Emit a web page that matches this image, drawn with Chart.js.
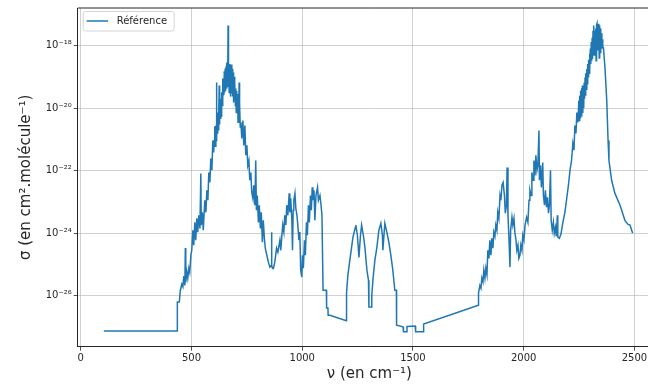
<!DOCTYPE html>
<html>
<head>
<meta charset="utf-8">
<script src="https://cdn.jsdelivr.net/npm/chart.js@4.4.1/dist/chart.umd.min.js"></script>
<style>
  html, body { margin: 0; padding: 0; overflow: hidden; background: #fff; }
  #wrap { width: 648px; height: 387px; overflow: hidden; }
</style>
</head>
<body>
<div id="wrap"><canvas id="c" width="661" height="387"></canvas></div>
<script>
// nombre d'onde (cm-1) et section efficace (cm2/molécule)
const nu = [
  // palier + montée de la bande 667
  104, 435, 436, 445, 449, 456, 461, 465, 470, 472, 474, 479, 483, 488, 492, 497, 501, 506, 510, 515,
  519, 524, 528, 533, 538, 542, 544, 549, 553, 560, 565, 569, 574, 578, 583, 587, 592, 596,
  // sommet de la bande 667
  600, 602.5, 605, 607.5, 610, 612, 613, 614, 616, 618,
  620, 622, 623.5, 625, 626, 628, 630, 632, 634, 636,
  638, 640, 642, 644, 646, 648, 650, 652, 654, 656,
  658, 660, 662, 664, 665, 666, 668, 670, 672, 674,
  676, 678, 680, 682, 684, 686, 688, 690, 692, 694,
  696, 698, 700, 702, 704, 706, 708, 710, 712, 714,
  715, 716, 718, 720,
  // descente, bandes 960/1060, 1260/1370, creux
  723, 727, 732, 736, 741, 745, 750, 754, 759, 763,
  768, 772, 777, 781, 786, 790, 793, 797, 802, 806,
  811, 815, 820, 824, 829, 833, 840, 847, 854, 860,
  861, 863, 870, 876, 884, 890, 899, 903, 908, 912,
  917, 921, 926, 930, 935, 941, 944, 948, 953, 956,
  959, 962, 967, 971, 976, 980, 985, 989, 993, 998,
  1001, 1005, 1010, 1014, 1019, 1023, 1028, 1032, 1037, 1041,
  1045, 1048, 1053, 1057, 1062, 1069, 1073, 1080, 1084, 1089,
  1094, 1109, 1110, 1116, 1117, 1125, 1199, 1200, 1206, 1215,
  1229, 1240, 1242, 1249, 1256, 1263, 1268, 1276, 1283, 1292,
  1299, 1301, 1313, 1314, 1319, 1328, 1337, 1346, 1355, 1362,
  1364, 1369, 1373, 1382, 1391, 1400, 1409, 1418, 1425, 1426,
  1455, 1457, 1471, 1473, 1510, 1512, 1546, 1548, 1795, 1796,
  // bandes 1900 et 2060
  1802, 1807, 1811, 1816, 1820, 1825, 1829, 1834, 1838, 1843,
  1847, 1852, 1856, 1861, 1865, 1870, 1874, 1879, 1883, 1888,
  1893, 1897, 1902, 1907, 1913, 1917, 1922, 1925, 1929, 1933,
  1938, 1941, 1947, 1951, 1956, 1960, 1965, 1969, 1974, 1978,
  1983, 1987, 1992, 1996, 2001, 2006, 2013, 2019, 2024, 2028,
  2033, 2037, 2042, 2046, 2051, 2055, 2060, 2064, 2069, 2071,
  2076, 2080, 2086, 2089, 2094, 2098, 2103, 2107, 2112, 2116,
  2121, 2124, 2129, 2134, 2138, 2143, 2147, 2152, 2154, 2161,
  2168, 2177, 2186, 2195, 2202, 2209, 2216, 2222, 2227, 2231,
  2236, 2240, 2245,
  // bande 2350
  2249, 2251, 2253, 2255, 2257, 2259, 2261, 2263, 2265, 2267,
  2269, 2271, 2273, 2275, 2277, 2279, 2281, 2283, 2285, 2287,
  2289, 2291, 2293, 2295, 2297, 2299, 2301, 2303, 2305, 2307,
  2309, 2311, 2313, 2315, 2317, 2319, 2321, 2323, 2325, 2327,
  2329, 2331, 2333, 2335, 2337, 2339, 2341, 2343, 2345, 2347,
  2349, 2351, 2353, 2355, 2357,
  2360, 2367, 2375, 2381, 2385, 2397, 2412, 2435, 2457, 2471, 2480, 2492
];
const sigma = [
  7.3e-28, 7.3e-28, 6.2e-27, 6.2e-27, 1.4e-26, 2.3e-26, 1.9e-26, 4.2e-26, 2.1e-26, 3.3e-25, 2.7e-26, 5.6e-26, 3.6e-26, 7.5e-26, 5.6e-26, 1.95e-25, 2.8e-25, 1.23e-24, 4.1e-25, 2.2e-24,
  5.9e-25, 2.95e-24, 1.07e-24, 3.7e-24, 1.4e-24, 8.1e-23, 1.8e-24, 4.6e-24, 1.23e-24, 1.12e-23, 4.6e-24, 2.35e-23, 1.12e-23, 8.7e-23, 4.2e-23, 2.45e-22, 1.02e-22, 9.2e-22,

  3.8e-22, 9.2e-22, 2.6e-21, 6.0e-22, 2.78e-21, 9.2e-22, 6.6e-20, 1.3e-21, 3.5e-21, 1.5e-21,
  7.2e-21, 1.92e-21, 5.0e-21, 5.3e-20, 3.0e-21, 1.51e-20, 4.7e-21, 2.0e-20, 5.5e-21, 3.2e-20,
  1.2e-20, 8.8e-20, 2.03e-20, 6.5e-20, 2.6e-20, 1.5e-19, 3.15e-20, 1.84e-19, 3.6e-20, 2.2e-19,
  4.2e-20, 2.86e-19, 5.0e-20, 2.5e-19, 4.4e-18, 6.0e-20, 2.86e-19, 3.15e-20, 2.6e-19, 4.0e-20,
  2.47e-19, 2.34e-20, 2.47e-19, 3.0e-20, 1.8e-19, 2.34e-20, 1.37e-19, 1.51e-20, 1.0e-19, 1.8e-20,
  6.5e-20, 1.2e-20, 4.2e-20, 7.2e-21, 3.5e-20, 8.5e-21, 2.8e-20, 3.5e-21, 2.03e-20, 5.0e-21,
  6.6e-20, 4.7e-21, 1.4e-20, 2.5e-21,

  3.5e-21, 1.07e-21, 4.0e-21, 6.4e-22, 2.75e-21, 3.1e-22, 6.4e-22, 1.48e-22, 2.1e-22, 4.9e-23,
  8.7e-23, 2.0e-23, 1.3e-23, 3.4e-23, 7.8e-24, 2.1e-22, 5.4e-24, 1.6e-23, 2.2e-24, 7.8e-24,
  1.4e-24, 4.6e-24, 5.1e-25, 2.55e-24, 6.8e-25, 3.3e-25, 1.95e-25, 1.17e-25, 8.1e-26, 9.3e-26,
  1.07e-24, 8.6e-26, 7.5e-26, 1.17e-25, 3.3e-25, 2.45e-25, 5.9e-25, 2.8e-25, 8.5e-25, 1.8e-24,
  1.07e-24, 3.7e-24, 1.8e-24, 7.8e-24, 3.7e-24, 1.86e-23, 4.6e-24, 1.3e-23, 2.55e-24, 2.8e-25,
  5.4e-24, 1.12e-23, 1.86e-23, 6.3e-24, 3.7e-24, 1.8e-24, 5.9e-25, 1.07e-24, 6.5e-26, 3.9e-26,
  1.95e-25, 7.5e-26, 5.9e-25, 1.95e-25, 2.2e-24, 8.5e-25, 7.8e-24, 2.2e-24, 1.6e-23, 5.4e-24,
  2.9e-23, 1.12e-23, 2.35e-23, 2.55e-24, 1.6e-23, 2.9e-23, 1.12e-23, 1.6e-23, 9.0e-24, 3.7e-24,
  1.48e-26, 1.48e-26, 4.0e-27, 4.0e-27, 2.35e-27, 2.35e-27, 1.55e-27, 1.2e-26, 4.5e-26, 1.35e-25,
  7.4e-25, 1.53e-24, 1.8e-24, 8.5e-25, 1.67e-25, 8.5e-25, 1.8e-24, 8.5e-25, 3.5e-25, 6.5e-26,
  3.1e-26, 4.3e-27, 4.3e-27, 1.0e-26, 3.1e-26, 1.35e-25, 3.5e-25, 1.23e-24, 2.05e-24, 8.5e-25,
  2.8e-25, 8.5e-25, 2.05e-24, 1.07e-24, 5.1e-25, 1.95e-25, 6.5e-26, 1.48e-26, 1.48e-26, 1.12e-27,
  1.0e-27, 6.9e-28, 6.9e-28, 1.02e-27, 1.05e-27, 6.9e-28, 6.9e-28, 1.23e-27, 4.9e-27, 1.2e-26,

  2.1e-26, 1.7e-26, 3.6e-26, 2.7e-26, 6.5e-26, 3.6e-26, 7.5e-26, 4.6e-26, 2.8e-25, 1.55e-25,
  5.9e-25, 1.95e-25, 6.8e-25, 3.3e-25, 1.07e-24, 7.9e-25, 1.8e-24, 1.23e-24, 4.6e-24, 2.95e-24,
  1.6e-23, 1.12e-23, 3.4e-23, 4.2e-23, 1.6e-23, 4.3e-24, 7.8e-24, 1.26e-22, 3.7e-24, 8.5e-25,
  8.1e-26, 1.23e-24, 3.2e-24, 1.8e-24, 2.95e-24, 1.07e-24, 5.9e-25, 2.8e-25, 4.1e-25, 1.55e-25,
  1.95e-25, 4.1e-25, 2.8e-25, 8.5e-25, 5.9e-25, 1.8e-24, 3.2e-24, 2.2e-24, 1.12e-23, 2.35e-23,
  1.6e-23, 8.7e-23, 4.9e-23, 2.1e-22, 7.0e-23, 3.1e-22, 1.02e-22, 1.48e-22, 1.9e-21, 4.9e-23,
  1.48e-22, 2.9e-23, 1.8e-22, 1.6e-23, 7.8e-24, 2.35e-23, 6.7e-24, 1.4e-23, 4.3e-24, 7.8e-24,
  1.02e-22, 2.55e-24, 1.23e-24, 2.2e-24, 9.8e-25, 1.53e-24, 7.9e-25, 3.7e-24, 7.4e-25, 6.8e-25,
  9.1e-25, 2.2e-24, 4.6e-24, 1.4e-23, 3.4e-23, 1.02e-22, 2.1e-22, 7.4e-22, 4.5e-22, 2.75e-21,
  1.55e-21, 7.2e-21, 3.5e-21,

  1.74e-20, 4.0e-21, 2.5e-20, 5.0e-21, 3.65e-20, 6.0e-21, 4.3e-20, 5.8e-21, 5.3e-20, 7.0e-21,
  5.3e-20, 1.0e-20, 6.5e-20, 2.0e-20, 9.5e-20, 2.5e-20, 1.3e-19, 4.0e-20, 1.8e-19, 6.0e-20,
  2.6e-19, 1.0e-19, 3.5e-19, 1.3e-19, 5.5e-19, 1.9e-19, 8.0e-19, 2.6e-19, 1.3e-18, 3.3e-19,
  1.8e-18, 3.8e-19, 3.0e-18, 4.8e-19, 4.4e-18, 5.0e-19, 3.0e-18, 6.0e-19, 3.5e-18, 3.3e-19,
  4.5e-18, 5.05e-18, 7.0e-19, 4.0e-18, 9.0e-19, 5.05e-18, 4.0e-19, 4.5e-18, 6.0e-19, 3.5e-18,
  7.0e-19, 2.5e-18, 8.0e-19, 1.6e-18, 9.0e-19,
  8.6e-19, 2.0e-19, 1.74e-20, 9.2e-22, 2.1e-22, 4.9e-23, 1.86e-23, 7.8e-24, 2.55e-24, 1.9e-24, 1.8e-24, 9.8e-25
];

const xTicks = [0, 500, 1000, 1500, 2000, 2500];
const yTicks = [1e-26, 1e-24, 1e-22, 1e-20, 1e-18];
const yTickLabels = ['10⁻²⁶', '10⁻²⁴', '10⁻²²', '10⁻²⁰', '10⁻¹⁸'];

const FONT = 'DejaVu Sans';
const ink = '#262626';
const gridColor = 'rgba(176,176,176,0.75)';

// boite de légende dans le coin haut gauche + bord du haut
const cadre = {
  id: 'cadre',
  afterDatasetsDraw(chart) {
    const { ctx, chartArea } = chart;
    const ds = chart.data.datasets[0];
    ctx.save();
    // bord du haut
    ctx.strokeStyle = ink;
    ctx.lineWidth = 1;
    ctx.beginPath();
    ctx.moveTo(chartArea.left, chartArea.top);
    ctx.lineTo(chartArea.right, chartArea.top);
    ctx.stroke();

    const x = chartArea.left + 5.5, y = chartArea.top + 3.5, w = 91, h = 19.5;
    ctx.beginPath();
    ctx.roundRect(x, y, w, h, 2.5);
    ctx.fillStyle = 'rgba(255,255,255,0.8)';
    ctx.fill();
    ctx.strokeStyle = '#d4d4d4';
    ctx.stroke();

    ctx.beginPath();
    ctx.moveTo(x + 3.5, y + 9.5);
    ctx.lineTo(x + 25, y + 9.5);
    ctx.strokeStyle = ds.borderColor;
    ctx.lineWidth = 1.5;
    ctx.stroke();

    ctx.fillStyle = ink;
    ctx.font = '10px "' + FONT + '"';
    ctx.textBaseline = 'middle';
    ctx.textAlign = 'left';
    ctx.fillText(ds.label, x + 33.5, y + 10);
    ctx.restore();
  }
};

new Chart(document.getElementById('c'), {
  type: 'line',
  data: {
    datasets: [{
      label: 'Référence',
      data: nu.map((v, i) => ({ x: v, y: sigma[i] })),
      borderColor: '#1f77b4',
      borderWidth: 1.5,
      pointRadius: 0,
      tension: 0,
      fill: false
    }]
  },
  options: {
    responsive: false,
    animation: false,
    devicePixelRatio: 1,
    layout: { padding: { top: 7.3, left: 0, right: 0, bottom: 0 } },
    plugins: { legend: { display: false }, tooltip: { enabled: false } },
    scales: {
      x: {
        type: 'linear',
        min: -14,
        max: 2620,
        afterBuildTicks: s => { s.ticks = xTicks.map(v => ({ value: v })); },
        afterFit: s => { s.height = 40.3; },
        ticks: {
          color: ink,
          font: { family: FONT, size: 10 },
          padding: 2,
          maxRotation: 0,
          callback: v => String(v)
        },
        grid: { color: gridColor, lineWidth: 0.8, tickLength: 4, tickColor: ink },
        border: { color: ink, width: 1 },
        title: {
          display: true,
          text: 'ν (en cm⁻¹)',
          color: ink,
          font: { family: FONT, size: 15 },
          padding: { top: 0, bottom: 4 }
        }
      },
      y: {
        type: 'logarithmic',
        min: 2.3e-28,
        max: 1.6e-17,
        afterBuildTicks: s => { s.ticks = yTicks.map(v => ({ value: v })); },
        afterFit: s => { s.width = 77.7; },
        ticks: {
          color: ink,
          font: { family: FONT, size: 10 },
          padding: 2,
          callback: v => yTickLabels[yTicks.indexOf(v)]
        },
        grid: { color: gridColor, lineWidth: 0.8, tickLength: 4, tickColor: ink },
        border: { color: ink, width: 1 },
        title: {
          display: true,
          text: 'σ (en cm².molécule⁻¹)',
          color: ink,
          font: { family: FONT, size: 15 },
          padding: { top: 17, bottom: 0 }
        }
      }
    }
  },
  plugins: [cadre]
});
</script>
</body>
</html>
